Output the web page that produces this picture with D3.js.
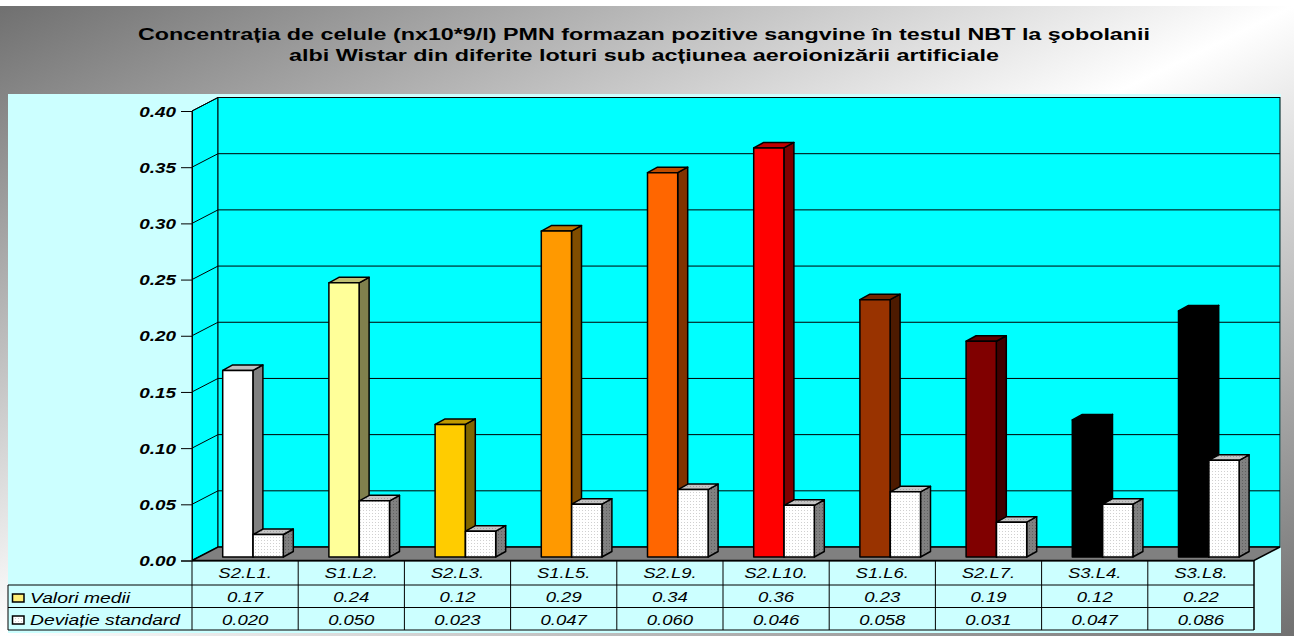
<!DOCTYPE html>
<html><head><meta charset="utf-8">
<script src="https://cdn.jsdelivr.net/npm/d3@7"></script>
<style>html,body{margin:0;padding:0;background:#fff;overflow:hidden}svg{display:block}
text{font-family:"Liberation Sans",Arial,sans-serif;fill:#000}</style></head>
<body><svg id="chart" width="1294" height="636"></svg>
<script>
const titleLines = ["Concentrația de celule (nx10*9/l) PMN formazan pozitive sangvine în testul NBT la şobolanii",
                    "albi Wistar din diferite loturi sub acțiunea aeroionizării artificiale"];
const categories = ["S2.L1.","S1.L2.","S2.L3.","S1.L5.","S2.L9.","S2.L10.","S1.L6.","S2.L7.","S3.L4.","S3.L8."];
const meanValues = [0.166,0.244,0.118,0.290,0.342,0.364,0.229,0.192,0.122,0.219];
const sdValues   = [0.020,0.050,0.023,0.047,0.060,0.046,0.058,0.031,0.047,0.086];
const meanColors = ["#ffffff","#ffff99","#ffcc00","#ff9900","#ff6600","#ff0000","#993300","#800000","#000000","#000000"];
const yTicks = [0,0.05,0.10,0.15,0.20,0.25,0.30,0.35,0.40];
const seriesNames = ["Valori medii","Deviație standard"];

const svg = d3.select("#chart");
const defs = svg.append("defs");

// page background: grey corners fading to white along the other diagonal
const bg = defs.append("linearGradient").attr("id","bg").attr("x1",0).attr("y1",0).attr("x2",1).attr("y2",1);
[[0,"#707070"],[0.5,"#ffffff"],[1,"#707070"]].forEach(([o,c])=>bg.append("stop").attr("offset",o).attr("stop-color",c));

// stippled fills for the standard deviation bars
function dots(id, base, dot){
  const p = defs.append("pattern").attr("id",id).attr("width",3).attr("height",3).attr("patternUnits","userSpaceOnUse");
  p.append("rect").attr("width",3).attr("height",3).attr("fill",base);
  p.append("rect").attr("width",1).attr("height",1).attr("fill",dot);
}
dots("dotFront","#ffffff","#d0d0d0");
dots("dotTop","#c4c4c4","#a0a0a0");
dots("dotSide","#808080","#606060");

// widen a text run horizontally, keeping its height
function stretch(sel,k){
  sel.each(function(){
    const w = this.getComputedTextLength();
    d3.select(this).attr("textLength",w*k).attr("lengthAdjust","spacingAndGlyphs");
  });
}

svg.append("rect").attr("x",0).attr("y",6).attr("width",1294).attr("height",630).attr("fill","url(#bg)");
svg.append("rect").attr("x",8).attr("y",94).attr("width",1273).attr("height",539).attr("fill","#ccffff");

const title = svg.append("g").attr("font-weight","bold").attr("font-size",15.6).attr("text-anchor","middle");
titleLines.forEach((t,i)=>title.append("text").attr("x",644).attr("y",[40,61][i]).attr("textLength",[1012,710][i]).attr("lengthAdjust","spacingAndGlyphs").text(t));

// 3D frame: front plane, with the back wall offset by the depth vector
const x0 = 192, xEnd = 1254, depthX = 26, depthY = -13.5;
const yFront = d3.scaleLinear().domain([0,0.4]).range([560.5,111]);
const band = d3.scaleBand().domain(categories).range([x0,xEnd]);
const yBack = v => yFront(v)+depthY;

svg.append("path").attr("d",`M${x0},${yFront(0)}L${x0},${yFront(0.4)}L${x0+depthX},${yBack(0.4)}L${x0+depthX},${yBack(0)}Z`).attr("fill","#00ffff").attr("stroke","#000").attr("stroke-width",1);
svg.append("rect").attr("x",x0+depthX).attr("y",yBack(0.4)).attr("width",xEnd-x0).attr("height",yBack(0)-yBack(0.4)).attr("fill","#00ffff").attr("stroke","#000").attr("stroke-width",1);
svg.append("path").attr("d",`M${x0},${yFront(0)}L${xEnd},${yFront(0)}L${xEnd+depthX},${yBack(0)}L${x0+depthX},${yBack(0)}Z`).attr("fill","#808080").attr("stroke","#000").attr("stroke-width",1.5);

const grid = svg.append("g").attr("stroke","#000").attr("stroke-width",1).attr("fill","none");
yTicks.filter(v=>v>0).forEach(v=>{
  grid.append("path").attr("d",`M${x0},${yFront(v)}L${x0+depthX},${yBack(v)}L${xEnd+depthX},${yBack(v)}`);
});

// value axis drawn by d3 on the front plane
const yAxis = d3.axisLeft(yFront).tickValues(yTicks).tickFormat(d3.format(".2f")).tickSize(11).tickPadding(5);
const ax = svg.append("g").attr("transform",`translate(${x0},0)`).call(yAxis);
ax.select(".domain").attr("stroke","#000");
ax.selectAll(".tick line").attr("stroke","#000");
const tickText = ax.selectAll("text").attr("font-family",'"Liberation Sans"').attr("font-size",14.5).attr("font-weight","bold").attr("font-style","italic").attr("fill","#000").attr("dy","0.36em");
stretch(tickText,1.3);

// extruded bars: front face, top and right side
const baseY = yFront(0)-3.5, barDx = 10, barDy = -5.5, barW = 30.2, barOff = 30.4;
const barH = d3.scaleLinear().domain([0,0.4]).range([0,yFront(0)-yFront(0.4)]);
function shade(c,k){const q=d3.rgb(c);return d3.rgb(q.r*k,q.g*k,q.b*k).formatHex();}
function bar(g,x,v,front,top,side){
  const y = baseY-barH(v);
  g.append("path").attr("d",`M${x+barW},${baseY}L${x+barW},${y}L${x+barW+barDx},${y+barDy}L${x+barW+barDx},${baseY+barDy}Z`).attr("fill",side);
  g.append("path").attr("d",`M${x},${y}L${x+barDx},${y+barDy}L${x+barW+barDx},${y+barDy}L${x+barW},${y}Z`).attr("fill",top);
  g.append("rect").attr("x",x).attr("y",y).attr("width",barW).attr("height",baseY-y).attr("fill",front);
}
const bars = svg.append("g").attr("stroke","#000").attr("stroke-width",1.5).attr("stroke-linejoin","round");
categories.forEach((c,i)=>{
  const xs = band(c)+30.7;
  const m = meanColors[i];
  bar(bars,xs,meanValues[i],m,shade(m,0.75),shade(m,0.5));
  bar(bars,xs+barOff,sdValues[i],"url(#dotFront)","url(#dotTop)","url(#dotSide)");
});

// data table under the plot
const rows = [561,585,607.5,630];
const tbl = svg.append("g").attr("stroke","#000").attr("stroke-width",1).attr("fill","none");
tbl.append("path").attr("d",`M${x0},${rows[0]}H${xEnd}V${rows[3]}H8V${rows[1]}H${xEnd}M8,${rows[2]}H${xEnd}`);
[x0,...categories.map(c=>band(c)+band.bandwidth())].forEach(x=>tbl.append("line").attr("x1",x).attr("x2",x).attr("y1",rows[0]).attr("y2",rows[3]));
const cell = svg.append("g").attr("font-size",14).attr("font-style","italic").attr("text-anchor","middle");
categories.forEach((c,i)=>{
  const cx = band(c)+band.bandwidth()/2;
  cell.append("text").attr("x",cx).attr("y",578).text(c);
  cell.append("text").attr("x",cx).attr("y",602).text(d3.format(".2f")(meanValues[i]));
  cell.append("text").attr("x",cx).attr("y",624.5).text(d3.format(".3f")(sdValues[i]));
});
stretch(cell.selectAll("text"),1.32);
seriesNames.forEach((s,i)=>{
  const y = [598,620][i];
  svg.append("rect").attr("x",12.5).attr("y",y-4).attr("width",11.5).attr("height",8).attr("fill",i?"url(#dotFront)":"#ffee77").attr("stroke","#000").attr("stroke-width",1.5);
  const label = svg.append("text").attr("x",30).attr("y",y+5).attr("font-size",14.5).attr("font-style","italic").text(s);
  stretch(label,1.33);
});
</script></body></html>
